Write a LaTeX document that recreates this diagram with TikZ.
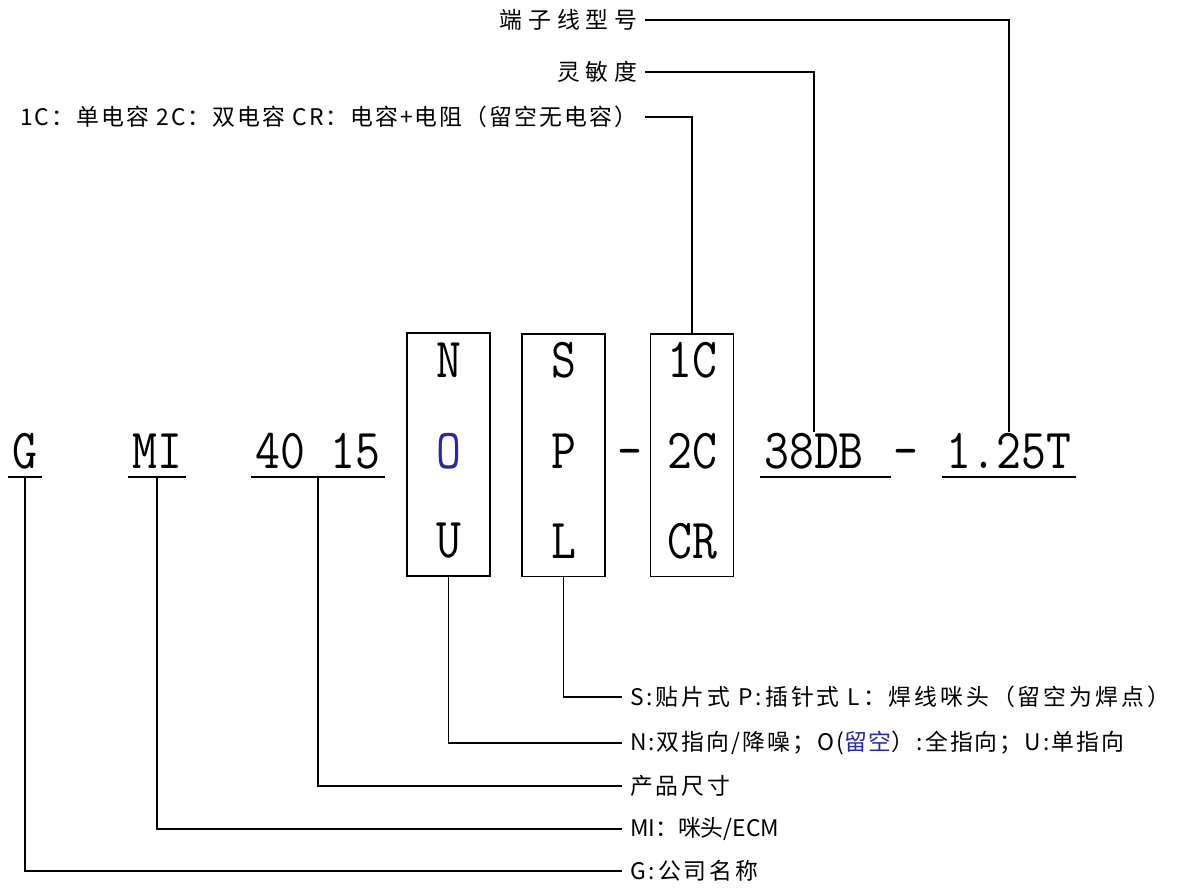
\documentclass[tikz,border=0pt]{standalone}
\usepackage{fontspec}
\usepackage{graphicx}
\newfontfamily\cjk[LetterSpace=13]{Noto Sans CJK SC}
\newfontfamily\cjkwide[LetterSpace=25]{Noto Sans CJK SC}
\newfontfamily\cjknarrow[LetterSpace=9]{Noto Sans CJK SC}
\newfontfamily\cjkplain{Noto Sans CJK SC}
\definecolor{oblue}{RGB}{40,40,170}
\newcommand{\code}[1]{\scalebox{1}[1.17]{#1}}

\begin{document}
\begin{tikzpicture}[x=0.02cm, y=-0.02cm, line width=1.1pt,
  code/.style={font=\fontsize{27.5}{30}\selectfont\ttfamily, inner xsep=2pt, inner ysep=0pt, anchor=base},
  slot/.style={rectangle, draw=black, minimum width=1.66cm, minimum height=4.86cm},
  note/.style={font=\fontsize{13}{15}\selectfont\cjk, inner xsep=4pt, inner ysep=0pt},
  wide/.style={font=\fontsize{13}{15}\selectfont\cjkwide},
  narrow/.style={font=\fontsize{13}{15}\selectfont\cjknarrow},
  plain/.style={font=\fontsize{13}{15}\selectfont\cjkplain}]
  \useasboundingbox (0,0) rectangle (1182,890);

  % part number
  \node[code] (firm) at (25,468) {\code{G}};
  \node[code] (type) at (157,468) {\code{MI}};
  \node[code] (size) at (318,468) {\code{40 15}};

  \node[slot] (dirbox) at (448.5,454.5) {};
  \node[code] (dir-n) at ([yshift=1.55cm]dirbox.center) {\code{N}};
  \node[code] (dir-o) at ([yshift=-0.27cm]dirbox.center) {\code{\color{oblue}O}};
  \node[code] (dir-u) at ([yshift=-2.07cm]dirbox.center) {\code{U}};

  \node[slot] (mountbox) at (563.5,455) {};
  \node[code] (mount-s) at ([yshift=1.55cm]mountbox.center) {\code{S}};
  \node[code] (mount-p) at ([yshift=-0.27cm]mountbox.center) {\code{P}};
  \node[code] (mount-l) at ([yshift=-2.07cm]mountbox.center) {\code{L}};

  \node[code] (dash1) at (630,468) {\code{\textendash}};

  \node[slot] (capbox) at (692,455) {};
  \node[code] (cap-1c) at ([yshift=1.55cm]capbox.center) {\code{1C}};
  \node[code] (cap-2c) at ([yshift=-0.27cm]capbox.center) {\code{2C}};
  \node[code] (cap-cr) at ([yshift=-2.07cm]capbox.center) {\code{CR}};

  \node[code] (sens) at (814,468) {\code{38DB}};
  \node[code] (dash2) at (906,468) {\code{\textendash}};
  \node[code] (tail) at (1009,468) {\code{1.25T}};

  % underlines
  \draw ([yshift=-0.18cm]firm.base west) -- ([yshift=-0.18cm]firm.base east);
  \draw ([yshift=-0.18cm]type.base west) -- ([yshift=-0.18cm]type.base east);
  \draw ([yshift=-0.18cm]size.base west) -- ([yshift=-0.18cm]size.base east);
  \draw ([yshift=-0.18cm]sens.base west) -- ([xshift=0.46cm, yshift=-0.18cm]sens.base east);
  \draw ([yshift=-0.18cm]tail.base west) -- ([yshift=-0.18cm]tail.base east);

  % notes
  \node[note, wide, anchor=east] (termnote) at (645,20) {端子线型号};
  \node[note, wide, anchor=east] (sensnote) at (645,72) {灵敏度};
  \node[note, narrow, anchor=east] (capnote) at (645,117) {1C：单电容 2C：双电容 CR：电容+电阻（留空无电容）};

  \node[note, anchor=west] (mountnote) at (622,697) {S:贴片式 P:插针式 L：焊线咪头（留空为焊点）};
  \node[note, narrow, anchor=west] (dirnote) at (622,743) {N:双指向/降噪；O(\textcolor{oblue}{留空}）:全指向；U:单指向};
  \node[note, anchor=west] (sizenote) at (622,786) {产品尺寸};
  \node[note, plain, anchor=west] (typenote) at (622,829) {MI：咪头/ECM};
  \node[note, anchor=west] (firmnote) at (622,871) {G:公司名称};

  \draw (termnote.east) -| (tail.north);
  \draw (sensnote.east) -| (sens.north);
  \draw (capnote.east) -| (capbox.north);

  \draw (mountbox.south) |- (mountnote.west);
  \draw (dirbox.south) |- (dirnote.west);
  \draw ([yshift=-0.18cm]size.base) |- (sizenote.west);
  \draw ([yshift=-0.18cm]type.base) |- (typenote.west);
  \draw ([yshift=-0.18cm]firm.base) |- (firmnote.west);
\end{tikzpicture}
\end{document}
